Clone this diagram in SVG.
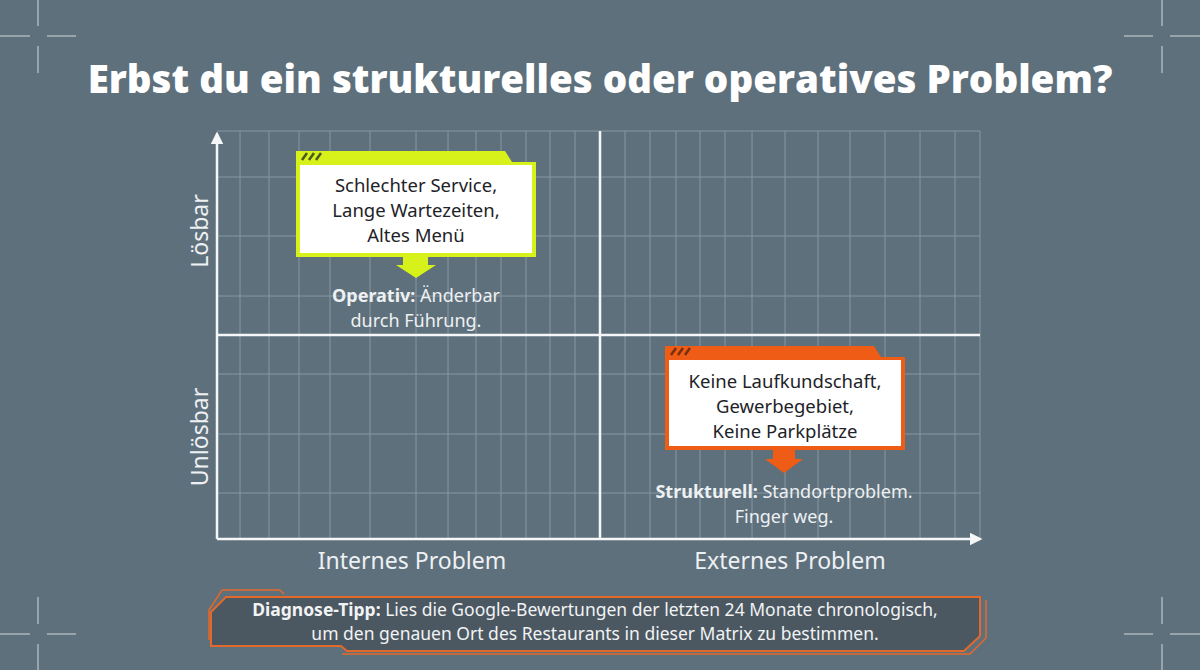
<svg xmlns="http://www.w3.org/2000/svg" width="1200" height="670" viewBox="0 0 1200 670">
<defs>
<style>
.grid{stroke:#8796a1;stroke-width:1;fill:none}
.axis{stroke:#f4f6f7;stroke-width:2.5;fill:none}
.cross{stroke:#aab5bc;stroke-width:1.5}
text{font-family:"Noto Sans","Open Sans",sans-serif}
.title{font-family:"Open Sans","Noto Sans",sans-serif;font-weight:800;font-size:38.5px;fill:#fff}
.box{font-size:18.5px;fill:#1e2328}
.note{font-size:18px;fill:#eef1f3}
.ax{font-size:23px;fill:#eef1f3}
.tip{font-size:17.5px;fill:#f1f3f4}
.b{font-weight:700}
</style>
<marker id="ah" viewBox="0 0 10 10" refX="8" refY="5" markerWidth="5" markerHeight="5" orient="auto-start-reverse"><path d="M0,0L10,5L0,10z" fill="#f4f6f7"/></marker>
</defs>
<rect width="1200" height="670" fill="#5e707c"/>
<g id="crosshairs" class="cross">
<path d="M38,0V26M38,46V73M0,36H30M47,36H76"/>
<path d="M1162,0V26M1162,46V73M1200,36H1170M1153,36H1124"/>
<path d="M38,670V644M38,624V597M0,634H30M47,634H76"/>
<path d="M1162,670V644M1162,624V597M1200,634H1170M1153,634H1124"/>
</g>
<text class="title" x="600" y="93" text-anchor="middle">Erbst du ein strukturelles oder operatives Problem?</text>
<g id="grid" class="grid">
<path d="M240,131V538M269,131V538M299,131V538M330,131V538M370,131V538M416,131V538M448,131V538M476,131V538M501,131V538M526,131V538M550,131V538M575,131V538"/>
<path d="M625,131V538M650,131V538M676,131V538M700,131V538M725,131V538M752,131V538M785,131V538M818,131V538M850,131V538M885,131V538M920,131V538M955,131V538M980,131V538"/>
<path d="M217,131H980M217,177H980M217,236H980M217,296H980M217,374H980M217,434H980M217,493H980"/>
</g>
<g id="connectors">
<path class="axis" d="M600,131V538M217,335H980"/>
<path class="axis" d="M217,539V134" marker-end="url(#ah)"/>
<path class="axis" d="M217,539H980" marker-end="url(#ah)"/>
</g>
<g id="axis-labels">
<text class="ax" transform="translate(208,231) rotate(-90)" text-anchor="middle">Lösbar</text>
<text class="ax" transform="translate(208,437) rotate(-90)" text-anchor="middle">Unlösbar</text>
<text class="ax" x="412" y="569" text-anchor="middle">Internes Problem</text>
<text class="ax" x="790" y="569" text-anchor="middle">Externes Problem</text>
</g>
<g id="operativ">
<path d="M296,151H505L512,162H536V257H296Z" fill="#d6f21a"/>
<rect x="300" y="165" width="232" height="88" fill="#fff"/>
<path d="M302,160L307,153M309,160L314,153M316,160L321,153" stroke="#4a5a20" stroke-width="2.5"/>
<path d="M403,257H428V265H436L416,278L396,265H403Z" fill="#d6f21a"/>
<text class="box" text-anchor="middle"><tspan x="416" y="192">Schlechter Service,</tspan><tspan x="416" y="217">Lange Wartezeiten,</tspan><tspan x="416" y="242">Altes Menü</tspan></text>
<text class="note" text-anchor="middle"><tspan x="416" y="302"><tspan class="b">Operativ:</tspan> Änderbar</tspan><tspan x="416" y="327">durch Führung.</tspan></text>
</g>
<g id="strukturell">
<path d="M665,346H874L881,357H905V450H665Z" fill="#ee5c16"/>
<rect x="669" y="360" width="232" height="86" fill="#fff"/>
<path d="M671,355L676,348M678,355L683,348M685,355L690,348" stroke="#7a3010" stroke-width="2.5"/>
<path d="M773,450H795V459H803L784,473L765,459H773Z" fill="#ee5c16"/>
<text class="box" text-anchor="middle"><tspan x="785" y="388">Keine Laufkundschaft,</tspan><tspan x="785" y="413">Gewerbegebiet,</tspan><tspan x="785" y="438">Keine Parkplätze</tspan></text>
<text class="note" text-anchor="middle"><tspan x="784" y="498"><tspan class="b">Strukturell:</tspan> Standortproblem.</tspan><tspan x="784" y="523">Finger weg.</tspan></text>
</g>
<g id="tipp">
<path d="M226,597H980L980,636L964,651H347L341,646H211V612Z" fill="#4b5761"/>
<path d="M226,597H980L980,636L964,651H347L341,646H211V612Z" fill="none" stroke="#e2692a" stroke-width="2"/>
<path d="M209,640V610L222,590H280L284,594" fill="none" stroke="#e2692a" stroke-width="1.5"/>
<path d="M986,600V638L970,654H342" fill="none" stroke="#e2692a" stroke-width="1.5"/>
<text class="tip" text-anchor="middle"><tspan x="595" y="616"><tspan class="b">Diagnose-Tipp:</tspan> Lies die Google-Bewertungen der letzten 24 Monate chronologisch,</tspan><tspan x="595" y="640">um den genauen Ort des Restaurants in dieser Matrix zu bestimmen.</tspan></text>
</g>
</svg>
